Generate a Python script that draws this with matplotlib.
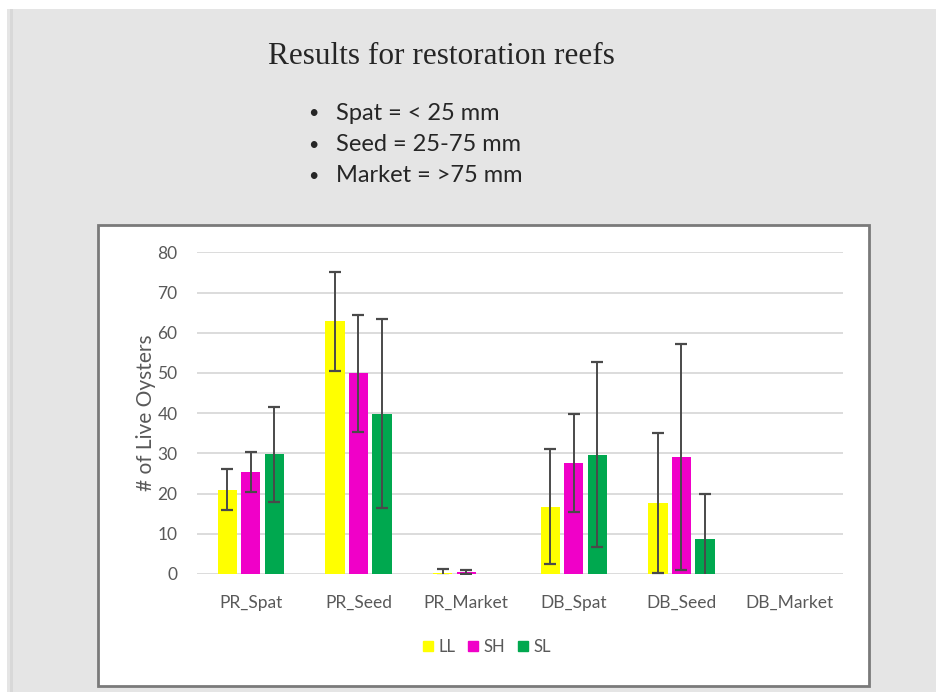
import matplotlib
matplotlib.use("Agg")
import matplotlib.pyplot as plt
from matplotlib.patches import Rectangle
from matplotlib.lines import Line2D
import numpy as np

categories = ["PR_Spat", "PR_Seed", "PR_Market", "DB_Spat", "DB_Seed", "DB_Market"]
series_names = ["LL", "SH", "SL"]
LL = [21.0, 62.8, 0.3, 16.7, 17.6, 0.0]
SH = [25.3, 49.9, 0.5, 27.6, 29.1, 0.0]
SL = [29.8, 39.9, 0.0, 29.7, 8.7, 0.0]
LL_err = [5.0, 12.4, 0.9, 14.3, 17.4, 0.0]
SH_err = [5.0, 14.5, 0.5, 12.2, 28.1, 0.0]
SL_err = [11.8, 23.6, 0.0, 23.0, 11.2, 0.0]
y_ticks = [0, 10, 20, 30, 40, 50, 60, 70, 80]
bullets = ["Spat = < 25 mm", "Seed = 25-75 mm", "Market = >75 mm"]
title = "Results for restoration reefs"
y_label = "# of Live Oysters"

colors = ["#FFFF00", "#F000C8", "#00A84F"]

W, H = 937, 692
fig = plt.figure(figsize=(W / 100, H / 100), dpi=100)
fig.patch.set_facecolor("white")

def fx(px):
    return px / W

def fy(py):
    return 1 - py / H

# slide background
fig.patches.append(Rectangle((fx(7), 0), 1 - fx(7), fy(9), transform=fig.transFigure,
                             facecolor="#e5e5e5", edgecolor="none", zorder=0))
fig.patches.append(Rectangle((fx(10), 0), fx(3), fy(9), transform=fig.transFigure,
                             facecolor="#d8d8d8", edgecolor="none", zorder=0))
# chart box
fig.patches.append(Rectangle((fx(98), fy(686)), fx(869 - 98), (686 - 225) / H,
                             transform=fig.transFigure, facecolor="white",
                             edgecolor="#7a7a7a", linewidth=2, zorder=1))

fig.text(fx(441), fy(56), title, family="Liberation Serif", fontsize=22.5,
         color="#262626", ha="center", va="center")
for i, b in enumerate(bullets):
    yy = fy(113 + i * 31.5)
    fig.text(fx(313), yy, "\u2022", family="Lato", fontsize=13, color="#262626",
             ha="center", va="center")
    fig.text(fx(336), yy, b, family="Lato", fontsize=17, color="#262626",
             ha="left", va="center")

ax = fig.add_axes([fx(197), fy(574), fx(843 - 197), (574 - 252.3) / H])
ax.set_facecolor("none")
ax.set_zorder(2)
x = np.arange(len(categories))
bw = 0.178
step = 0.218
series = [LL, SH, SL]
errs = [LL_err, SH_err, SL_err]
for k, (vals, err, c, name) in enumerate(zip(series, errs, colors, series_names)):
    xs = x + (k - 1) * step
    ax.bar(xs, vals, width=bw, color=c, zorder=2, label=name)
    e = np.array(err)
    m = e > 0
    ax.errorbar(xs[m], np.array(vals)[m], yerr=e[m], fmt="none", ecolor="#4a4a4a",
                elinewidth=1.4, capsize=4, capthick=1.6, zorder=3)

ax.set_xlim(-0.5, len(categories) - 0.5)
ax.set_ylim(0, 80)
ax.set_yticks(y_ticks)
ax.set_xticks(x)
ax.set_xticklabels(categories)
for s in ax.spines.values():
    s.set_visible(False)
ax.grid(axis="y", color="#d9d9d9", linewidth=1.3, zorder=0)
ax.set_axisbelow(True)
ax.tick_params(axis="both", length=0, labelcolor="#595959", labelsize=12.5)
ax.tick_params(axis="y", pad=14)
ax.tick_params(axis="x", pad=15)
for t in ax.get_xticklabels() + ax.get_yticklabels():
    t.set_family("Lato")
ax.set_ylabel(y_label, family="Lato", fontsize=15, color="#595959", labelpad=1)

handles = [Line2D([], [], marker="s", linestyle="none", markersize=7,
                  markerfacecolor=c, markeredgecolor=c) for c in colors]
leg = fig.legend(handles, series_names, loc="center", bbox_to_anchor=(fx(487), fy(647)),
                 ncol=3, frameon=False, handlelength=0.6, handletextpad=0.3,
                 columnspacing=0.8, prop={"family": "Lato", "size": 12})
for t in leg.get_texts():
    t.set_color("#595959")

fig.savefig("out.png", dpi=100, facecolor=fig.get_facecolor())
